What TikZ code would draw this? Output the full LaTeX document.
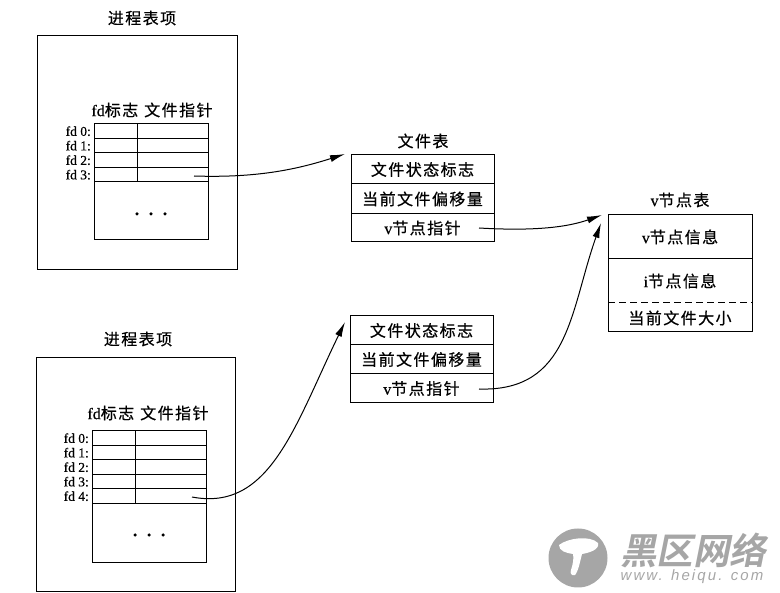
\documentclass[tikz,border=0pt]{standalone}
\usepackage{fontspec}
\setmainfont[FakeBold=0.4]{Liberation Serif}
\newfontfamily\cjk[LetterSpace=9,FakeBold=0.5]{Noto Sans CJK SC}
\newfontfamily\markcjk[FakeSlant=0.2]{Noto Sans CJK SC Bold}
\newfontfamily\marklatin[LetterSpace=14]{Liberation Sans}
\usetikzlibrary{
  positioning,
  arrows.meta
  }
\tikzset{
  >={Latex[length=15pt,width=7pt]},
  wire/.style={line width=1pt},
  cell/.style={draw,line width=1pt,rectangle,inner sep=0pt,outer sep=0pt},
  lab/.style={font=\fontsize{13.5}{13.5}\selectfont,inner sep=0pt},
  title/.style={font=\fontsize{16}{16}\selectfont\cjk,inner sep=0pt},
  filerow/.style={cell,minimum width=143pt,font=\fontsize{16}{16}\selectfont\cjk},
  fdflag/.style={cell,minimum width=43pt,minimum height=14.5pt},
  fdptr/.style={cell,minimum width=71pt,minimum height=14.5pt},
  dot/.style={circle,fill,inner sep=0pt,minimum size=3.5pt},
}

\begin{document}
\begin{tikzpicture}[x=1pt,y=-1pt]
\useasboundingbox (0,0) rectangle (780,593);
% =========================================================
% (A) upper process entry
% =========================================================
  \node[title] (proc1) at (142,18) {进程表项};
  \node[cell,minimum width=200pt,minimum height=234pt] (outer1) at (137.5,153) {};
  \node[title] (head1) at (152,110) {{\normalfont\fontsize{16}{16}\selectfont fd}标志\hspace{6pt}文件指针};
  \foreach \i/\y in {0/131.2,1/145.7,2/160.2,3/174.7}{
    \node[fdflag] (flag1\i) at (115.5,\y) {};
    \node[fdptr] (ptr1\i) at (172.5,\y) {};
    \node[lab,anchor=east] (fd1\i) at (91,\y) {fd \i:};
  }
  \node[cell,minimum width=114pt,minimum height=57.5pt] (rest1) at (151,210.7) {};
  \node[dot] (dot11) at (137,214) {};
  \node[dot] (dot12) at (151,214) {};
  \node[dot] (dot13) at (165,214) {};
% =========================================================
% (B) lower process entry
% =========================================================
  \node[title] (proc2) at (138,339) {进程表项};
  \node[cell,minimum width=199pt,minimum height=234pt] (outer2) at (135.5,475) {};
  \node[title] (head2) at (148,413) {{\normalfont\fontsize{16}{16}\selectfont fd}标志\hspace{6pt}文件指针};
  \foreach \i/\y in {0/438.2,1/452.7,2/467.2,3/481.7,4/496.2}{
    \node[fdflag] (flag2\i) at (113.5,\y) {};
    \node[fdptr] (ptr2\i) at (170.5,\y) {};
    \node[lab,anchor=east] (fd2\i) at (89,\y) {fd \i:};
  }
  \node[cell,minimum width=114pt,minimum height=59pt] (rest2) at (149,533) {};
  \node[dot] (dot21) at (135,535) {};
  \node[dot] (dot22) at (149,535) {};
  \node[dot] (dot23) at (163,535) {};
% =========================================================
% (C) file tables
% =========================================================
  \node[title] (file) at (423,141) {文件表};
  \node[filerow,minimum height=29pt] (state1) at (422.5,169.5) {文件状态标志};
  \node[filerow,minimum height=30pt] (offset1) at (422.5,199) {当前文件偏移量};
  \node[filerow,minimum height=28pt] (vptr1) at (422.5,228) {{\normalfont v}节点指针};

  \node[filerow,minimum height=29pt] (state2) at (421.5,330.5) {文件状态标志};
  \node[filerow,minimum height=29pt] (offset2) at (421.5,359.5) {当前文件偏移量};
  \node[filerow,minimum height=29pt] (vptr2) at (421.5,388.5) {{\normalfont v}节点指针};
% =========================================================
% (D) v-node table
% =========================================================
  \node[title] (vtable) at (680,200) {{\normalfont v}节点表};
  \node[filerow,minimum width=144pt,minimum height=44pt] (vinfo) at (680,237) {{\normalfont v}节点信息};
  \node[filerow,minimum width=144pt,minimum height=73pt] (iblock) at (680,295.5) {};
  \node[font=\fontsize{16}{16}\selectfont\cjk,inner sep=0pt] (iinfo) at (680,281) {{\normalfont i}节点信息};
  \node[font=\fontsize{16}{16}\selectfont\cjk,inner sep=0pt] (vsize) at (680,318) {当前文件大小};
  \coordinate (splitl) at (608,303);
  \coordinate (splitr) at (752,303);
  \draw[wire,dash pattern=on 7pt off 4pt] (splitl) -- (splitr);
% =========================================================
% (E) pointers
% =========================================================
  \coordinate (from1) at (194,176);
  \coordinate (from2) at (192,497);
  \coordinate (from3) at (479,228);
  \coordinate (from4) at (479,389);
  \coordinate (tip1) at (345,154);
  \coordinate (tip2) at (345,322);
  \coordinate (tip3) at (602,215);
  \coordinate (tip4) at (601,223);
  \draw[wire,->] (from1) .. controls (255,178) and (295,170) .. (tip1);
  \draw[wire,->] (from2) .. controls (270,512) and (295,425) .. (tip2);
  \draw[wire,->] (from3) .. controls (530,231) and (565,228) .. (tip3);
  \draw[wire,->] (from4) .. controls (570,392) and (570,310) .. (tip4);
% =========================================================
% (F) site mark
% =========================================================
  \fill[gray!70] (578,558) circle (29.5);
  \fill[white] (559,545) .. controls (568,538) and (590,535) .. (598,543)
    .. controls (600,550) and (588,553) .. (582,554)
    .. controls (580,562) and (578,572) .. (575,575)
    .. controls (571,576) and (570,573) .. (571,570)
    .. controls (573,564) and (574,558) .. (573,554)
    .. controls (566,553) and (559,551) .. (559,545) -- cycle;
  \node[text=gray!70,inner sep=0pt,font=\fontsize{36.5}{36.5}\selectfont\markcjk] (markname) at (693,550) {黑区网络};
  \node[text=gray!70,inner sep=0pt,font=\fontsize{15}{15}\selectfont\marklatin\itshape] (markurl) at (692,577) {www. heiqu. com};
\end{tikzpicture}
\end{document}
